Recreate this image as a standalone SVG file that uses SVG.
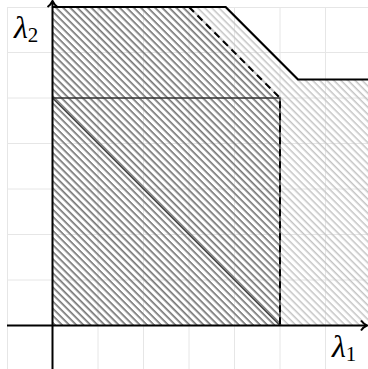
<svg xmlns="http://www.w3.org/2000/svg" width="368" height="369" viewBox="0 0 368 369">
  <style>
    .grid { stroke: #e6e6e6; stroke-width: 1; fill: none; }
    .axis { stroke: #000; stroke-width: 2; fill: none; }
    .bound { stroke: #000; stroke-width: 2.2; fill: none; stroke-linejoin: miter; }
    .dash { stroke: #000; stroke-width: 2; fill: none; stroke-dasharray: 7 5; }
    .rect { stroke: #333; stroke-width: 1.4; fill: none; }
    .diag { stroke: #444; stroke-width: 1.6; fill: none; }
    .lbl { font-family: "Liberation Serif", "DejaVu Serif", serif; fill: #000; }
  </style>
  <defs>
    <pattern id="hatchDark" patternUnits="userSpaceOnUse" width="10" height="5" patternTransform="rotate(45)">
      <rect x="0" y="0" width="10" height="1.5" fill="#777"/>
    </pattern>
    <pattern id="hatchLight" patternUnits="userSpaceOnUse" width="10" height="5" patternTransform="rotate(45)">
      <rect x="0" y="0" width="10" height="1.5" fill="#c4c4c4"/>
    </pattern>
  </defs>

  <g id="grid" class="grid">
    <path d="M7.5,7 V369 M52.5,7 V369 M98,7 V369 M143.5,7 V369 M189,7 V369 M234.5,7 V369 M280,7 V369 M325.5,7 V369"/>
    <path d="M7,7.5 H368 M7,52.5 H368 M7,98 H368 M7,143.5 H368 M7,189 H368 M7,234.5 H368 M7,280 H368"/>
  </g>

  <g id="region-outer">
    <path d="M52.5,325.5 V7 H225.7 L298,79.5 H368 V325.5 Z" fill="url(#hatchLight)"/>
  </g>
  <g id="region-inner">
    <path d="M52.5,325.5 V7 H189 L280,98 V325.5 Z" fill="url(#hatchDark)"/>
  </g>

  <g id="connectors">
    <path class="rect" d="M52.5,98 H280 V325.5"/>
    <path class="diag" d="M52.5,98 L280,325.5"/>
    <path class="bound" d="M52.5,7 H225.7 L298,79.5 H368"/>
    <path class="dash" d="M189,7 L280,98 V325.5"/>
    <path class="axis" d="M7,325.5 H366"/>
    <path class="axis" d="M52.5,369 V2"/>
    <path class="axis" stroke-width="1.6" d="M361,320.5 Q363.5,324 367,325.5 Q363.5,327 361,330.5"/>
    <path class="axis" stroke-width="1.6" d="M47.5,7 Q51,4.5 52.5,1 Q54,4.5 57.5,7"/>
  </g>

  <g id="label-lambda2">
    <text class="lbl" x="14" y="38" font-size="32" font-style="italic">λ<tspan font-size="21" font-style="normal" dy="4">2</tspan></text>
  </g>
  <g id="label-lambda1">
    <text class="lbl" x="332" y="357" font-size="32" font-style="italic">λ<tspan font-size="21" font-style="normal" dy="4">1</tspan></text>
  </g>
</svg>
